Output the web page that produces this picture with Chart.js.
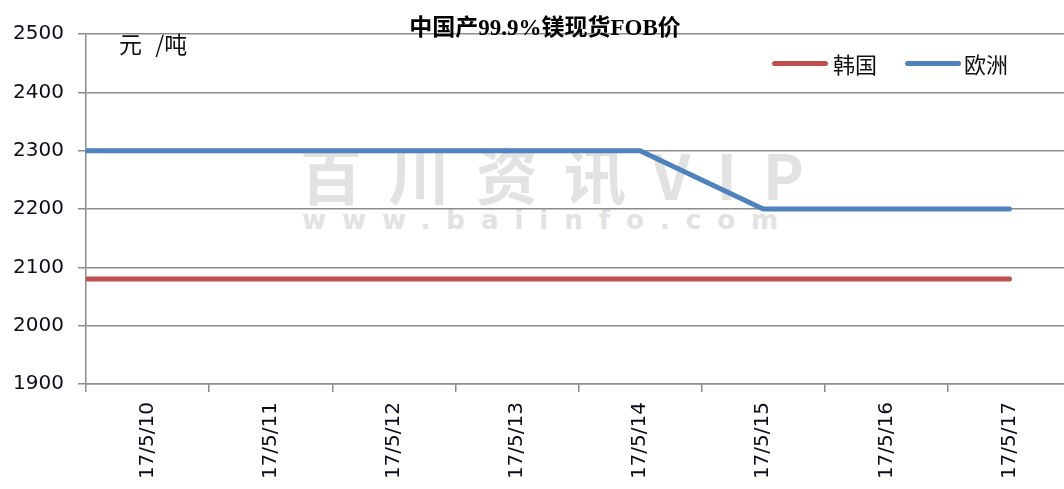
<!DOCTYPE html>
<html>
<head>
<meta charset="utf-8">
<title>中国产99.9%镁现货FOB价</title>
<script src="https://cdn.jsdelivr.net/npm/chart.js@4"></script>
<style>
html, body { margin: 0; padding: 0; background: #fff; overflow: hidden; width: 1064px; height: 489px; }
#wrap { position: relative; width: 1072px; height: 489px; }
#chart { position: absolute; left: 0; top: 0; z-index: 2; }
.txt { position: absolute; white-space: nowrap; font-family: "Noto Sans CJK SC", "DejaVu Sans", sans-serif; color: #111; z-index: 3; }
#title { left: 545px; top: 8px; transform: translateX(-50%); font: bold 23px "Liberation Serif", "Noto Sans CJK SC", serif; color: #000; }
#unit { left: 119px; top: 26px; font-size: 23px; word-spacing: 8px; }
.swatch { position: absolute; height: 5px; border-radius: 3px; z-index: 3; }
.wm { position: absolute; z-index: 1; color: #e2e2e2; white-space: nowrap; font-family: "Noto Sans CJK SC", "DejaVu Sans", sans-serif; }
#wm1 { left: 300px; top: 128px; font-size: 62px; letter-spacing: 26px; font-weight: bold; }
#wm2 { left: 302px; top: 205px; font-size: 26px; letter-spacing: 16px; font-weight: bold; font-family: "DejaVu Sans", sans-serif; }
</style>
</head>
<body>
<div id="wrap">
  <div class="wm" id="wm1">百川资讯VIP</div>
  <div class="wm" id="wm2">www.baiinfo.com</div>
  <canvas id="chart" width="1072" height="489"></canvas>
  <div class="txt" id="title">中国产99.9%镁现货FOB价</div>
  <div class="txt" id="unit">元 /吨</div>
</div>
<script>
// Data
const categories = ['17/5/10', '17/5/11', '17/5/12', '17/5/13', '17/5/14', '17/5/15', '17/5/16', '17/5/17'];
const seriesNames = ['韩国', '欧洲'];
const koreaValues = [2080, 2080, 2080, 2080, 2080, 2080, 2080, 2080];
const europeValues = [2300, 2300, 2300, 2300, 2300, 2200, 2200, 2200];
const yMin = 1900;
const yMax = 2500;
const yStep = 100;

let colors = {
    red: '#c0504d',
    blue: '#4f81bd',
    grid: '#8c8c8c',
    text: '#0d0d1a'
};

// the lines in the picture start at the y axis, so carry the first value back to the left edge
const xMin = -0.5;
const xMax = categories.length - 0.5;
let toPoints = function(values) {
    let pts = [{x: xMin, y: values[0]}];
    values.forEach(function(v, i) { pts.push({x: i, y: v}); });
    return pts;
};

let datasets = [
    { label: seriesNames[0], data: toPoints(koreaValues), borderColor: colors.red, backgroundColor: colors.red },
    { label: seriesNames[1], data: toPoints(europeValues), borderColor: colors.blue, backgroundColor: colors.blue }
].map(function(ds) {
    return Object.assign(ds, {
        xAxisID: 'xl',
        borderWidth: 5,
        pointRadius: 0,
        tension: 0,
        fill: false,
        borderCapStyle: 'round',
        borderJoinStyle: 'round'
    });
});

const tickFont = { family: '"DejaVu Sans", Verdana, sans-serif', size: 20 };

new Chart(document.getElementById('chart'), {
    type: 'line',
    data: { labels: categories, datasets: datasets },
    options: {
        responsive: false,
        animation: false,
        layout: { padding: { top: 34, right: 1, left: 0, bottom: 0 } },
        plugins: {
            legend: { display: false },
            title: { display: false },
            tooltip: { enabled: false }
        },
        scales: {
            x: {
                type: 'category',
                labels: categories,
                offset: true,
                grid: { drawOnChartArea: false, offset: true, tickLength: 8, color: colors.grid, lineWidth: 1.5 },
                border: { color: colors.grid, width: 1.5 },
                ticks: { minRotation: 90, maxRotation: 90, font: tickFont, color: colors.text, padding: 10, autoSkip: false },
                afterFit: function(scale) { scale.height = 105; }
            },
            xl: { type: 'linear', display: false, min: xMin, max: xMax },
            y: {
                min: yMin,
                max: yMax,
                ticks: {
                    stepSize: yStep, font: tickFont, color: colors.text, padding: 14,
                    callback: function(v) { return String(v); }
                },
                grid: { color: colors.grid, lineWidth: 1.5, tickLength: 8 },
                border: { color: colors.grid, width: 1.5 },
                afterFit: function(scale) { scale.width = 86; }
            }
        }
    }
});

// Legend inside the plot, top right
let legendPos = [
    { swatch: 772, text: 833 },
    { swatch: 905, text: 964 }
];
let wrap = document.getElementById('wrap');
datasets.forEach(function(ds, i) {
    let sw = document.createElement('div');
    sw.className = 'swatch';
    sw.style.left = legendPos[i].swatch + 'px';
    sw.style.top = '61px';
    sw.style.width = '56px';
    sw.style.background = ds.borderColor;
    wrap.appendChild(sw);

    let t = document.createElement('div');
    t.className = 'txt';
    t.textContent = ds.label;
    t.style.left = legendPos[i].text + 'px';
    t.style.top = '47px';
    t.style.fontSize = '22px';
    wrap.appendChild(t);
});
</script>
</body>
</html>
